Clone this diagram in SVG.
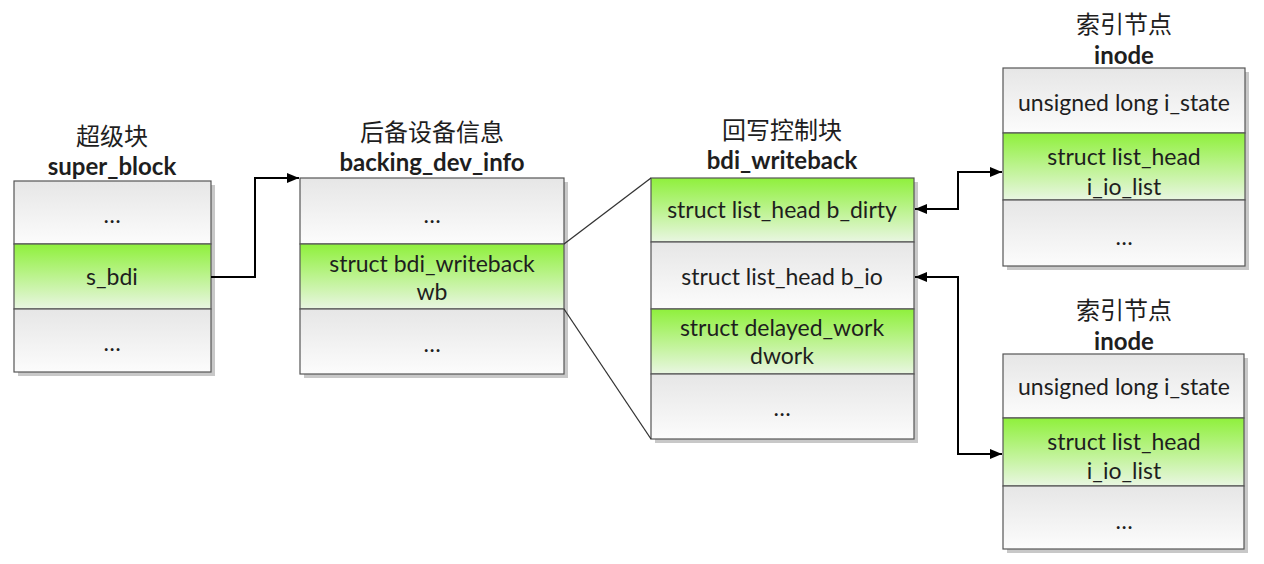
<svg xmlns="http://www.w3.org/2000/svg" width="1264" height="564" viewBox="0 0 1264 564">
<defs>
<linearGradient id="gW" x1="0" y1="0" x2="0" y2="1">
<stop offset="0" stop-color="#e6e6e6"/>
<stop offset="1" stop-color="#fcfcfc"/>
</linearGradient>
<linearGradient id="gG" x1="0" y1="0" x2="0" y2="1">
<stop offset="0" stop-color="#8ff03c"/>
<stop offset="1" stop-color="#e9f6e2"/>
</linearGradient>
<marker id="arr" viewBox="0 0 12 10" refX="12" refY="5" markerWidth="12" markerHeight="10" markerUnits="userSpaceOnUse" orient="auto-start-reverse">
<path d="M0,0 L12,5 L0,10 Z" fill="#000"/>
</marker>
</defs>
<style>
.w{fill:url(#gW);stroke:#555;stroke-width:1.2}
.g{fill:url(#gG);stroke:#555;stroke-width:1.2}
.sh{fill:#c8c8c8}
.t{font-family:Lato,"Open Sans",sans-serif;font-size:23px;fill:#1e1e1e;text-anchor:middle;dominant-baseline:central}
.cn{font-family:"Noto Sans CJK SC",sans-serif;font-size:24px;fill:#1e1e1e;text-anchor:middle;dominant-baseline:central}
.en{font-family:Lato,"Open Sans",sans-serif;font-size:24px;font-weight:bold;fill:#1e1e1e;text-anchor:middle;dominant-baseline:central}
.c{fill:none;stroke:#000;stroke-width:2}
.z{fill:none;stroke:#333;stroke-width:1.3}
</style>

<g id="super_block">
<text class="cn" x="112" y="134">超级块</text>
<text class="en" x="112" y="165">super_block</text>
<rect class="sh" x="18" y="185" width="197" height="191"/>
<rect class="w" x="14" y="181" width="197" height="63"/>
<rect class="g" x="14" y="244" width="197" height="65"/>
<rect class="w" x="14" y="309" width="197" height="63"/>
<text class="t" x="112" y="214">…</text>
<text class="t" x="112" y="276">s_bdi</text>
<text class="t" x="112" y="342">…</text>
</g>

<g id="backing_dev_info">
<text class="cn" x="432" y="130">后备设备信息</text>
<text class="en" x="432" y="161">backing_dev_info</text>
<rect class="sh" x="304" y="182" width="264" height="196"/>
<rect class="w" x="300" y="178" width="264" height="66"/>
<rect class="g" x="300" y="244" width="264" height="65"/>
<rect class="w" x="300" y="309" width="264" height="65"/>
<text class="t" x="432" y="214">…</text>
<text class="t" x="432" y="263">struct bdi_writeback</text>
<text class="t" x="432" y="291">wb</text>
<text class="t" x="432" y="343">…</text>
</g>

<g id="bdi_writeback">
<text class="cn" x="782" y="128">回写控制块</text>
<text class="en" x="782" y="159">bdi_writeback</text>
<rect class="sh" x="655" y="182" width="263" height="261"/>
<rect class="g" x="651" y="178" width="263" height="64"/>
<rect class="w" x="651" y="242" width="263" height="67"/>
<rect class="g" x="651" y="309" width="263" height="65"/>
<rect class="w" x="651" y="374" width="263" height="65"/>
<text class="t" x="782" y="209">struct list_head b_dirty</text>
<text class="t" x="782" y="276">struct list_head b_io</text>
<text class="t" x="782" y="327">struct delayed_work</text>
<text class="t" x="782" y="355">dwork</text>
<text class="t" x="782" y="407">…</text>
</g>

<g id="inode_1">
<text class="cn" x="1124" y="22">索引节点</text>
<text class="en" x="1124" y="54">inode</text>
<rect class="sh" x="1007" y="72" width="242" height="198"/>
<rect class="w" x="1003" y="68" width="242" height="65"/>
<rect class="g" x="1003" y="133" width="242" height="67"/>
<rect class="w" x="1003" y="200" width="242" height="66"/>
<text class="t" x="1124" y="102">unsigned long i_state</text>
<text class="t" x="1124" y="156">struct list_head</text>
<text class="t" x="1124" y="186">i_io_list</text>
<text class="t" x="1124" y="236">…</text>
</g>

<g id="inode_2">
<text class="cn" x="1124" y="308">索引节点</text>
<text class="en" x="1124" y="340">inode</text>
<rect class="sh" x="1007" y="358" width="241" height="195"/>
<rect class="w" x="1003" y="354" width="241" height="64"/>
<rect class="g" x="1003" y="418" width="241" height="68"/>
<rect class="w" x="1003" y="486" width="241" height="63"/>
<text class="t" x="1124" y="386">unsigned long i_state</text>
<text class="t" x="1124" y="441">struct list_head</text>
<text class="t" x="1124" y="470">i_io_list</text>
<text class="t" x="1124" y="520">…</text>
</g>

<g id="connectors">
<path class="c" d="M211,277 H255 V178 H299" marker-end="url(#arr)"/>
<path class="z" d="M564,244 L651,178"/>
<path class="z" d="M564,309 L651,439"/>
<path class="c" d="M915,209 H958 V172 H1002" marker-start="url(#arr)" marker-end="url(#arr)"/>
<path class="c" d="M915,277 H958 V454 H1002" marker-start="url(#arr)" marker-end="url(#arr)"/>
</g>
</svg>
